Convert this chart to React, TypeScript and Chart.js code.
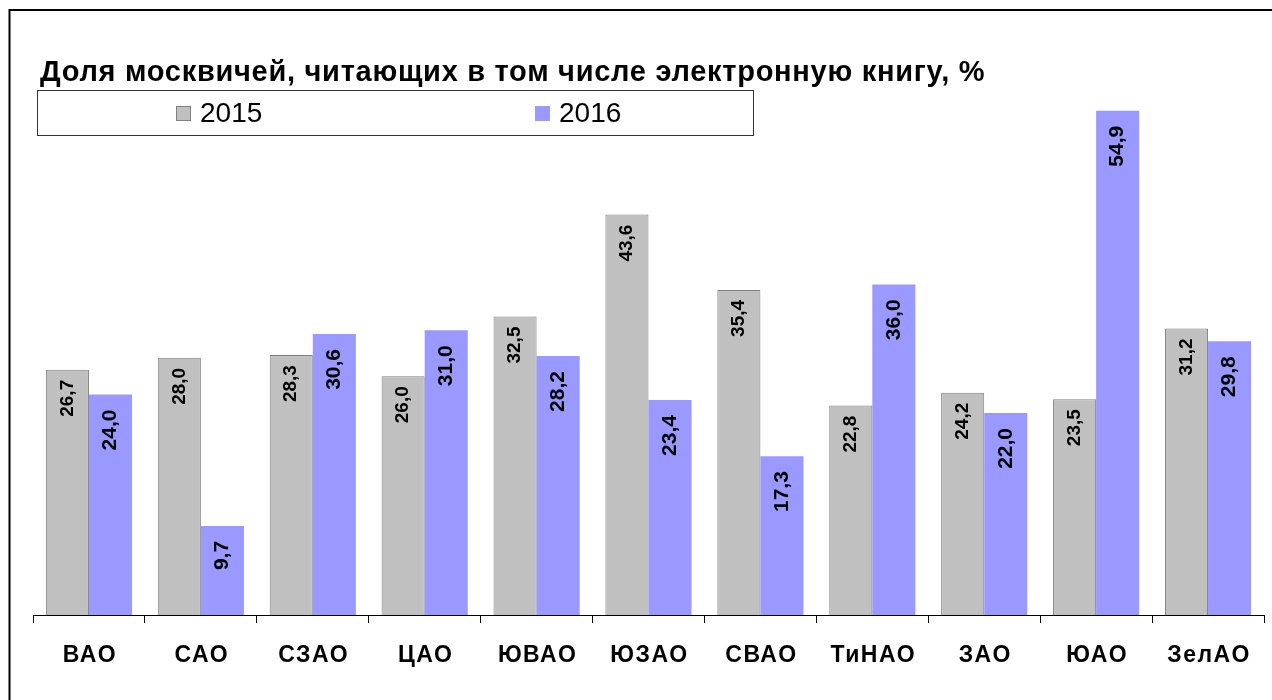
import React, { useEffect, useRef } from "react";
import { Chart, registerables } from "chart.js";

Chart.register(...registerables);

const TITLE = "Доля москвичей, читающих в том числе электронную книгу, %";
const categories = ["ВАО", "САО", "СЗАО", "ЦАО", "ЮВАО", "ЮЗАО", "СВАО", "ТиНАО", "ЗАО", "ЮАО", "ЗелАО"];
const values2015 = [26.7, 28.0, 28.3, 26.0, 32.5, 43.6, 35.4, 22.8, 24.2, 23.5, 31.2];
const values2016 = [24.0, 9.7, 30.6, 31.0, 28.2, 23.4, 17.3, 36.0, 22.0, 54.9, 29.8];
const seriesLabels = ["2015", "2016"];

const GRAY = "#C0C0C0";
const GRAY_BORDER = "#808080";
const BLUE = "#9999FF";

const W = 1272;
const H = 700;

const fmt = (v: number) => v.toFixed(1).replace(".", ",");

const decorPlugin = {
  id: "decor",
  beforeDraw(chart: any) {
    const ctx = chart.ctx;
    ctx.save();
    ctx.fillStyle = "#ffffff";
    ctx.fillRect(0, 0, W, H);
    ctx.strokeStyle = "#000000";
    ctx.lineWidth = 2;
    ctx.strokeRect(9.5, 10, W + 40, H + 40);
    ctx.restore();
  },
  afterDatasetsDraw(chart: any) {
    const ctx = chart.ctx;
    ctx.save();
    chart.data.datasets.forEach((ds: any, di: number) => {
      const meta = chart.getDatasetMeta(di);
      meta.data.forEach((bar: any, i: number) => {
        const v = ds.data[i];
        ctx.save();
        const off = di === 0 ? 10 : 15;
        ctx.translate(bar.x, bar.y + off);
        ctx.rotate(-Math.PI / 2);
        ctx.textAlign = "right";
        ctx.textBaseline = "middle";
        ctx.fillStyle = "#000";
        ctx.font = di === 0 ? 'bold 19px "Liberation Sans Narrow", "Liberation Sans", Arial' : 'bold 21px "Liberation Sans", Arial';
        ctx.fillText(fmt(v), 0, 0);
        ctx.restore();
      });
    });
    ctx.restore();
  },
  afterDraw(chart: any) {
    const ctx = chart.ctx;
    ctx.save();
    // title
    ctx.fillStyle = "#000";
    ctx.font = 'bold 29px "Liberation Sans", Arial';
    (ctx as any).letterSpacing = "0.72px";
    ctx.textAlign = "left";
    ctx.textBaseline = "alphabetic";
    ctx.fillText(TITLE, 40, 81);
    // category labels
    const xs = chart.scales.x;
    ctx.font = 'bold 23px "Liberation Sans", Arial';
    (ctx as any).letterSpacing = "1.5px";
    ctx.textAlign = "center";
    ctx.textBaseline = "middle";
    categories.forEach((c, i) => {
      ctx.fillText(c, xs.getPixelForValue(i) + 1, 656);
    });
    (ctx as any).letterSpacing = "0px";
    // legend box
    ctx.textAlign = "left";
    ctx.fillStyle = "#fff";
    ctx.fillRect(37.5, 90.5, 716, 45);
    ctx.strokeStyle = "#333";
    ctx.lineWidth = 1;
    ctx.strokeRect(37.5, 90.5, 716, 45);
    const items = [
      { x: 176, fill: GRAY, stroke: GRAY_BORDER, label: seriesLabels[0] },
      { x: 535, fill: BLUE, stroke: BLUE, label: seriesLabels[1] },
    ];
    ctx.font = '28px "Liberation Sans", Arial';
    ctx.textBaseline = "middle";
    items.forEach((it) => {
      ctx.fillStyle = it.fill;
      ctx.fillRect(it.x, 106, 15, 15);
      ctx.strokeStyle = it.stroke;
      ctx.strokeRect(it.x + 0.5, 106.5, 14, 14);
      ctx.fillStyle = "#000";
      ctx.fillText(it.label, it.x + 24, 114);
    });
    ctx.restore();
  },
};

export default function App() {
  const ref = useRef<HTMLCanvasElement>(null);
  useEffect(() => {
    if (!ref.current) return;
    const chart = new Chart(ref.current, {
      type: "bar",
      data: {
        labels: categories,
        datasets: [
          {
            label: seriesLabels[0],
            data: values2015,
            backgroundColor: GRAY,
            borderColor: GRAY_BORDER,
            borderWidth: 1,
            categoryPercentage: 0.77,
            barPercentage: 1.0,
          },
          {
            label: seriesLabels[1],
            data: values2016,
            backgroundColor: BLUE,
            borderWidth: 0,
            categoryPercentage: 0.77,
            barPercentage: 1.0,
          },
        ],
      },
      options: {
        responsive: false,
        animation: false,
        layout: { padding: { left: 33, right: 8, top: 64, bottom: 0 } },
        plugins: { legend: { display: false }, tooltip: { enabled: false }, title: { display: false } },
        scales: {
          y: { display: false, min: 0, max: 60 },
          x: {
            grid: { display: true, drawOnChartArea: false, tickLength: 8, color: "#000", offset: true },
            border: { display: true, color: "#000", width: 1 },
            ticks: { display: false },
            afterFit: (s: any) => {
              s.height = 85;
            },
          },
        },
      },
      plugins: [decorPlugin],
    });
    return () => chart.destroy();
  }, []);
  return (
    <div style={{ position: "fixed", left: 0, top: 0, width: W, height: H, background: "#fff" }}>
      <canvas ref={ref} width={W} height={H} style={{ display: "block", width: W, height: H }} />
    </div>
  );
}
